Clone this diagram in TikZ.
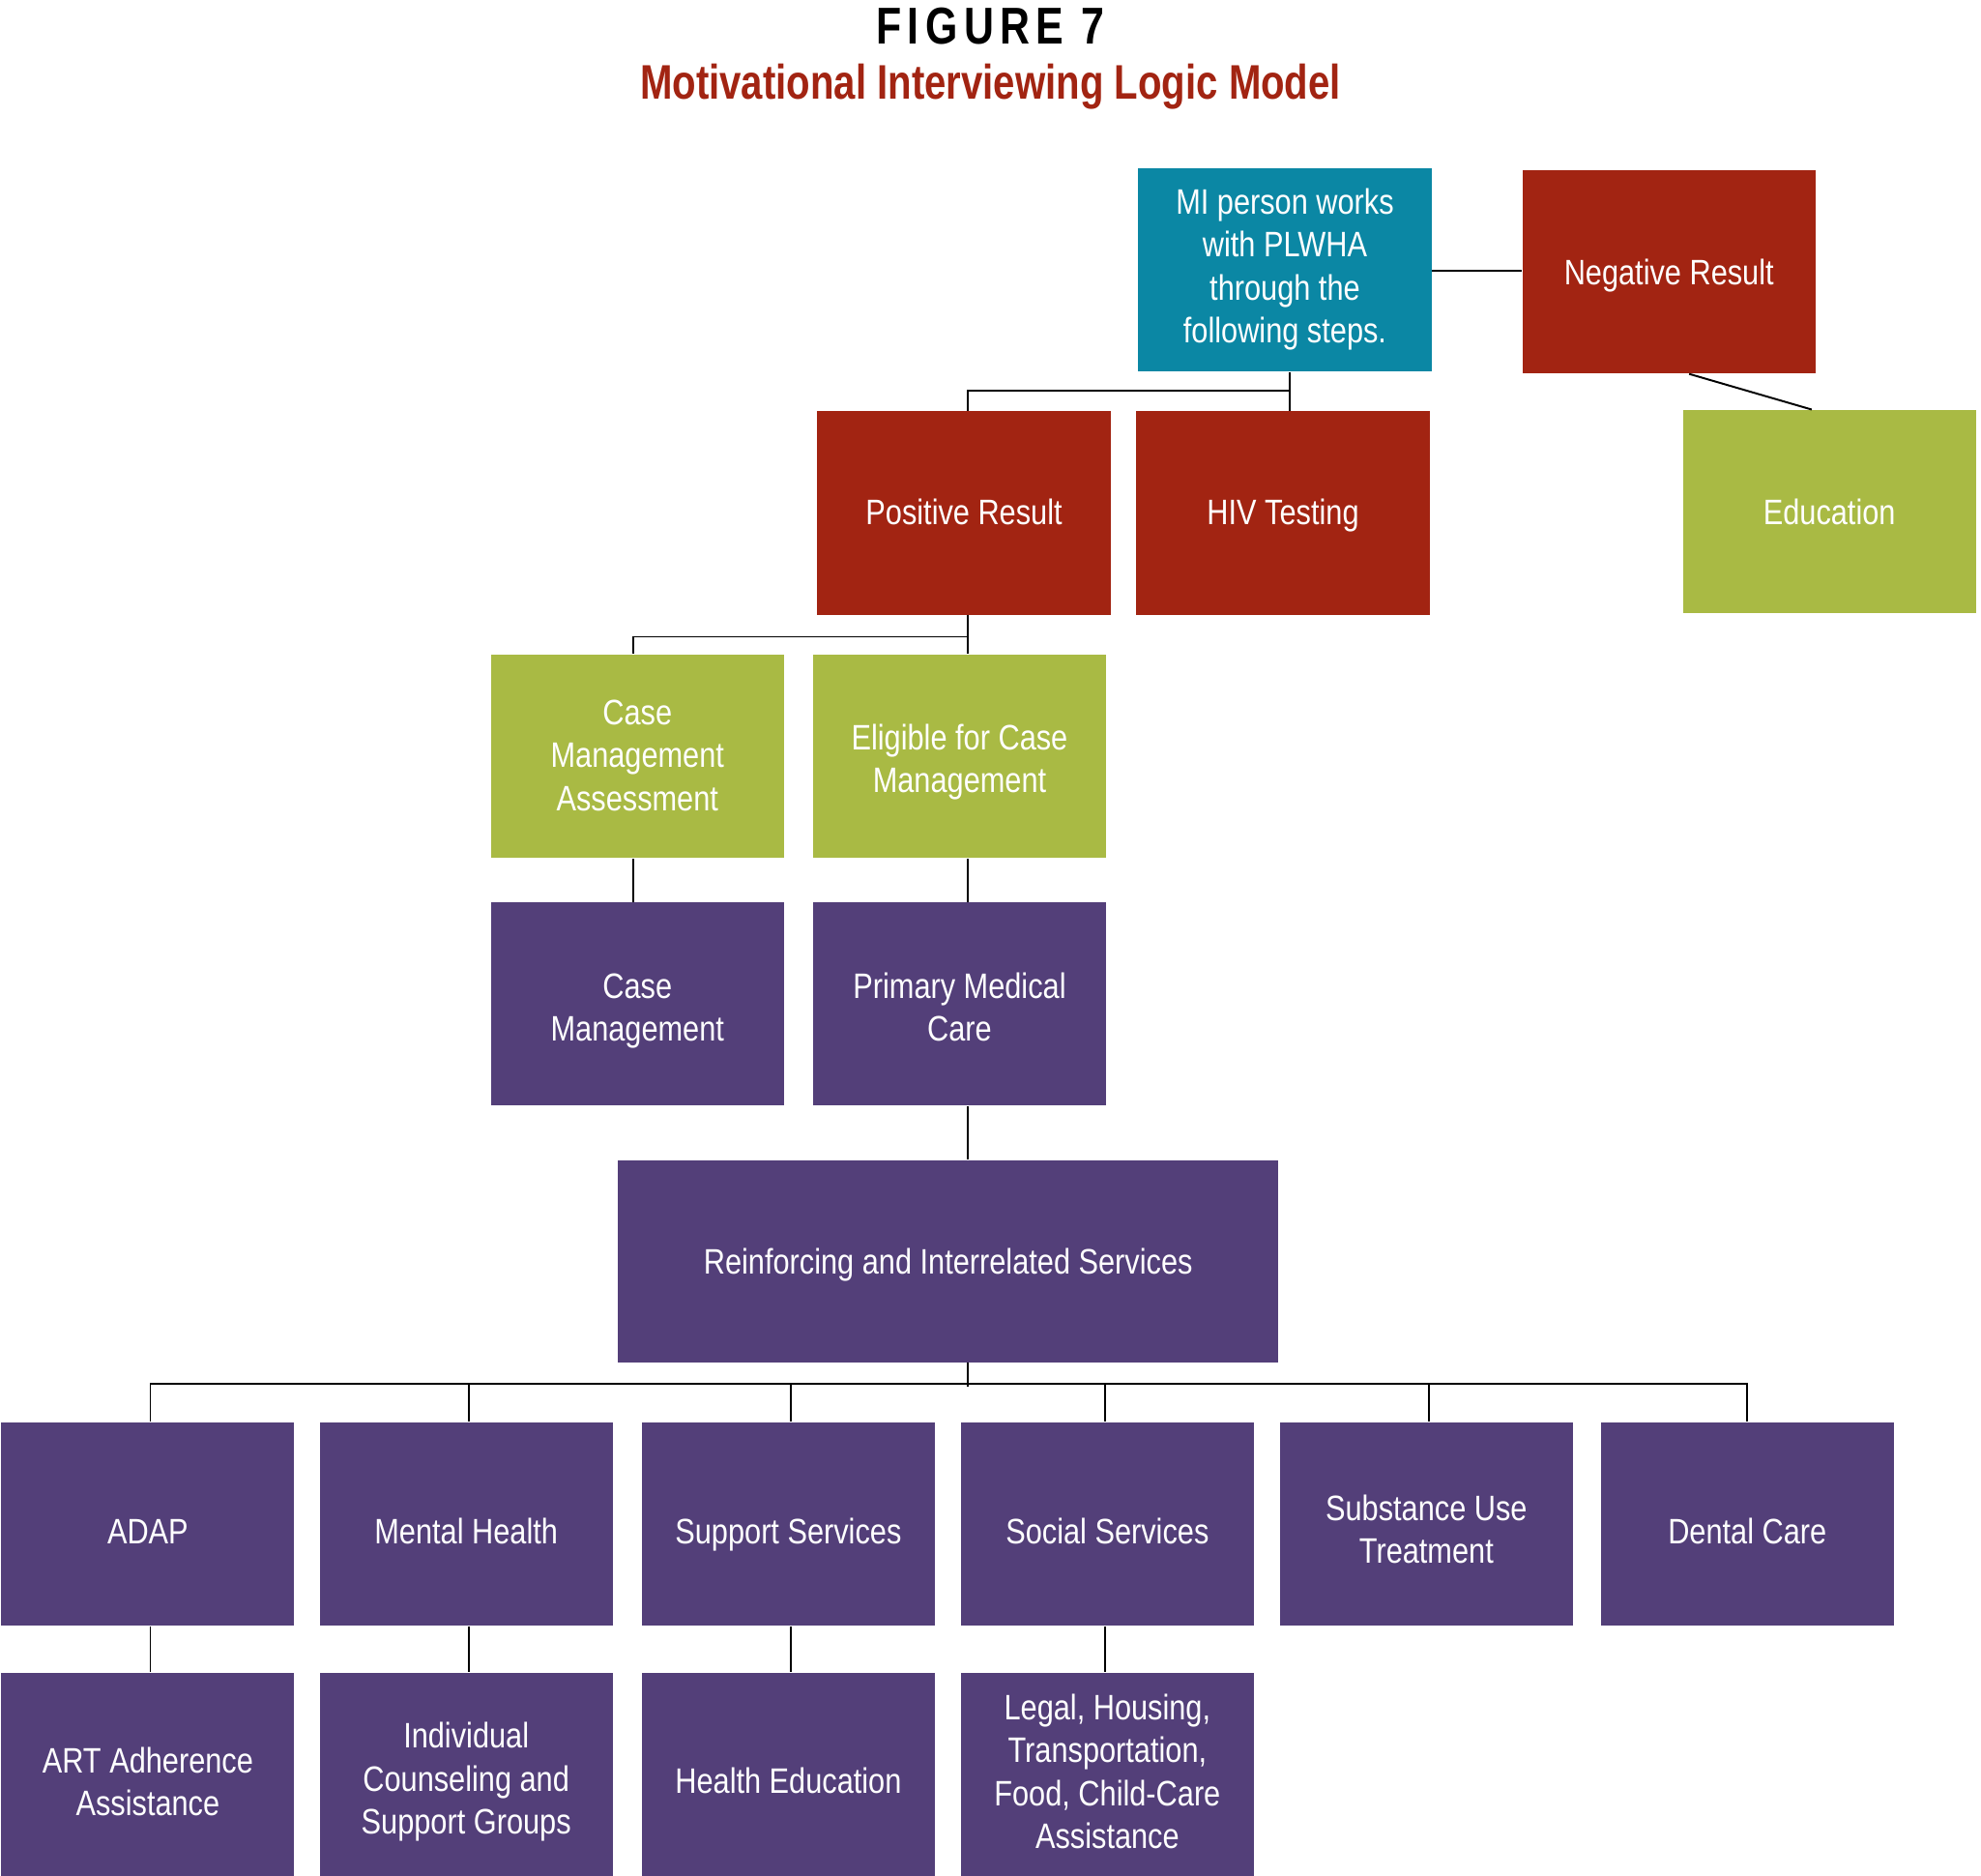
\documentclass[tikz,border=0pt]{standalone}
\usepackage{fontspec}
\setmainfont{Liberation Sans}[FakeStretch=0.84]
\newfontfamily\titlefont{Liberation Sans}[FakeStretch=0.80,LetterSpace=12]
\newfontfamily\subfont{Liberation Sans}[FakeStretch=0.80]
\definecolor{mired}{HTML}{A22412}
\definecolor{miteal}{HTML}{0B87A4}
\definecolor{migreen}{HTML}{A9BA44}
\definecolor{mipurple}{HTML}{533F79}
\newcommand\mistrut[1]{\rule[\dimexpr-3pt+#1\relax]{0pt}{16pt}}
\newcommand\mitop[1]{\rule{0pt}{\dimexpr13pt+#1\relax}}
\newcommand\mibot[1]{\rule[\dimexpr-3pt+#1\relax]{0pt}{\dimexpr3pt-#1\relax}}
\begin{document}
\begin{tikzpicture}[x=0.5pt,y=-0.5pt,
  tsh/.style={execute at begin node={\mistrut{#1}}, execute at end node={\mistrut{#1}}},
  box/.style={rectangle, inner sep=0pt, minimum width=116pt, minimum height=80.5pt,
    text=white, align=center, font=\fontsize{14}{17}\selectfont},
  redbox/.style={box, fill=mired},
  tealbox/.style={box, fill=miteal},
  greenbox/.style={box, fill=migreen},
  purplebox/.style={box, fill=mipurple},
  link/.style={draw=black, line width=0.75pt}]
\useasboundingbox (0,0) rectangle (1568,1484);
\clip (0,0) rectangle (1568,1484);
% titles
\node[anchor=base, font=\titlefont\bfseries\fontsize{20.5}{24}\selectfont] (title) at (784,35) {FIGURE 7};
\node[anchor=base, text=mired, font=\subfont\bfseries\fontsize{19.2}{23}\selectfont] (subtitle) at (784,78.6) {Motivational Interviewing Logic Model};
% top level
\node[tealbox] (MI) at (1017,213.5) {\mitop{-1.5pt}MI person works\\with PLWHA\\through the\\following steps.\mibot{-1.5pt}};
\node[redbox, tsh=0pt] (Neg) at (1321,215) {Negative Result};
\node[redbox, tsh=-0.25pt] (Pos) at (763,406) {Positive Result};
\node[redbox, tsh=-0.25pt] (HIV) at (1015.5,406) {HIV Testing};
\node[greenbox, tsh=0pt] (Edu) at (1448,405) {Education};
\node[greenbox] (CMA) at (504.5,598.5) {\mitop{-0.5pt}Case\\Management\\Assessment\mibot{-0.5pt}};
\node[greenbox] (Elig) at (759.5,598.5) {\mitop{1.6pt}Eligible for Case\\Management\mibot{0.85pt}};
\node[purplebox] (CM) at (504.5,794.5) {\mitop{2.3pt}Case\\Management\mibot{1.2pt}};
\node[purplebox] (PMC) at (759.5,794.5) {\mitop{1.2pt}Primary Medical\\Care\mibot{1.2pt}};
\node[purplebox, tsh=0pt, minimum width=261.5pt, minimum height=80pt] (Reinf) at (750.5,998) {Reinforcing and Interrelated Services};
% row 1
\node[purplebox, tsh=2.8pt] (ADAP) at (117,1206) {ADAP};
\node[purplebox, tsh=2.8pt] (MH) at (369,1206) {Mental Health};
\node[purplebox] (SupS) at (624,1206) {\mitop{5.5pt}Support Services};
\node[purplebox, tsh=2.8pt] (SocS) at (876.5,1206) {Social Services};
\node[purplebox] (Sub) at (1129,1206) {\mitop{2pt}Substance Use\\Treatment\mibot{2pt}};
\node[purplebox, tsh=2.8pt] (Dent) at (1383,1206) {Dental Care};
% row 2
\node[purplebox] (ART) at (117,1404) {\mitop{3pt}ART Adherence\\Assistance\mibot{3pt}};
\node[purplebox] (Ind) at (369,1404) {\mitop{3.2pt}Individual\\Counseling and\\Support Groups\mibot{1.9pt}};
\node[purplebox, tsh=2.4pt] (HEd) at (624,1404) {Health Education};
\node[purplebox] (Leg) at (876.5,1404) {\mitop{-1pt}Legal, Housing,\\Transportation,\\Food, Child-Care\\Assistance\mibot{-1pt}};
% connectors
\draw[link] ([yshift=-0.25pt]MI.east) -- ([yshift=-0.25pt]MI.east -| Neg.west);
\draw[link] ([xshift=1.75pt]MI.south) -- ([xshift=2.5pt]HIV.north);
\draw[link] ([xshift=1.75pt]MI.south) ++(0,15) -| ([xshift=1.5pt]Pos.north);
\draw[link] ([xshift=8pt]Neg.south) -- ([xshift=-7pt]Edu.north);
\draw[link] ([xshift=1.5pt]Pos.south) -- ([xshift=3.25pt]Elig.north);
\draw[link] ([xshift=1.5pt]Pos.south) ++(0,17) -| ([xshift=-1.75pt]CMA.north);
\draw[link] ([xshift=-1.75pt]CMA.south) -- ([xshift=-1.75pt]CM.north);
\draw[link] ([xshift=3.25pt]Elig.south) -- ([xshift=3.25pt]PMC.north);
\draw[link] ([xshift=3.25pt]PMC.south) -- ([xshift=7.75pt]Reinf.north);
\draw[link] ([xshift=7.75pt]Reinf.south) -- ++(0,19);
\coordinate (bus) at ([yshift=-8.5pt,xshift=7.75pt]Reinf.south);
\draw[link] (bus) -| ([xshift=1pt]ADAP.north);
\draw[link] (bus) -| ([xshift=1pt]MH.north);
\draw[link] (bus) -| ([xshift=1pt]SupS.north);
\draw[link] (bus) -| ([xshift=-0.75pt]SocS.north);
\draw[link] (bus) -| ([xshift=1pt]Sub.north);
\draw[link] (bus) -| (Dent.north);
\draw[link] ([xshift=1pt]ADAP.south) -- ([xshift=1pt]ART.north);
\draw[link] ([xshift=1pt]MH.south) -- ([xshift=1pt]Ind.north);
\draw[link] ([xshift=1pt]SupS.south) -- ([xshift=1pt]HEd.north);
\draw[link] ([xshift=-0.75pt]SocS.south) -- ([xshift=-0.75pt]Leg.north);
\end{tikzpicture}
\end{document}
